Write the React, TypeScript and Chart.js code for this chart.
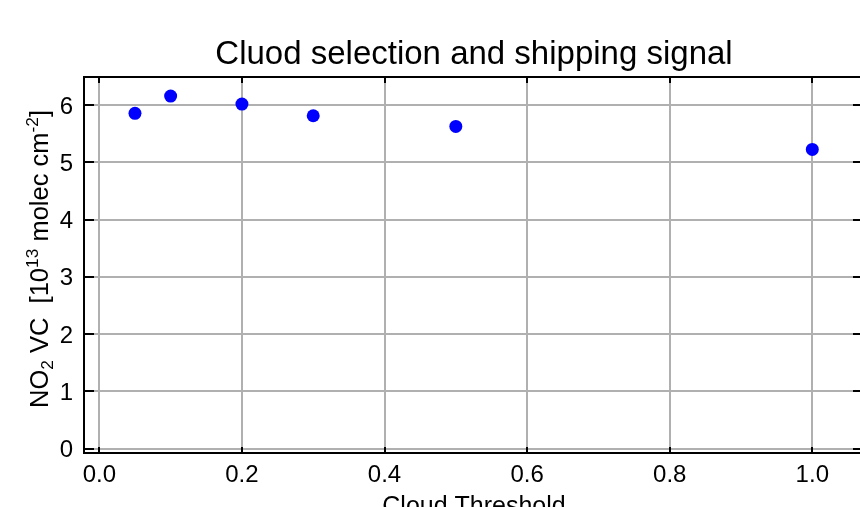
import React, { useEffect, useRef } from "react";
import { Chart, registerables } from "chart.js";

Chart.register(...registerables);

// ---- data ----
const thresholds = [0.05, 0.1, 0.2, 0.3, 0.5, 1.0];
const no2Values = [5.855, 6.157, 6.017, 5.813, 5.627, 5.225];
const xTickValues = [0, 0.2, 0.4, 0.6, 0.8, 1.0];
const yTickValues = [0, 1, 2, 3, 4, 5, 6];
const titleText = "Cluod selection and shipping signal";
const xLabelText = "Cloud Threshold";
// y label pieces: text, relative size, vertical shift (em, + = down)
const yLabelTexts = ["NO", "2", " VC  [10", "13", " molec cm", "-2", "]"];
const yLabelScales = [1, 0.68, 1, 0.68, 1, 0.68, 1];
const yLabelShifts = [0, 0.22, 0, -0.38, 0, -0.38, 0];

const FONT = '"Liberation Sans", Arial, Helvetica, sans-serif';
const W = 900;
const H = 540;
const AREA = { left: 84, top: 77, right: 862, bottom: 453 };

const framePlugin = {
  id: "framePlugin",
  afterDraw(chart: any) {
    const ctx = chart.ctx as CanvasRenderingContext2D;
    const ca = chart.chartArea;
    const xs = chart.scales.x;
    const ys = chart.scales.y;
    ctx.save();
    ctx.strokeStyle = "#000";
    ctx.lineWidth = 2;
    ctx.strokeRect(ca.left, ca.top, ca.right - ca.left, ca.bottom - ca.top);
    ctx.beginPath();
    for (const v of xTickValues) {
      const px = Math.round(xs.getPixelForValue(v));
      ctx.moveTo(px, ca.bottom);
      ctx.lineTo(px, ca.bottom - 6);
      ctx.moveTo(px, ca.top);
      ctx.lineTo(px, ca.top + 6);
    }
    for (const v of yTickValues) {
      const py = Math.round(ys.getPixelForValue(v));
      ctx.moveTo(ca.left, py);
      ctx.lineTo(ca.left + 10, py);
      ctx.moveTo(ca.right, py);
      ctx.lineTo(ca.right - 9, py);
    }
    ctx.stroke();

    const cx = (ca.left + ca.right) / 2;
    ctx.fillStyle = "#000";
    ctx.textAlign = "center";
    ctx.textBaseline = "alphabetic";
    ctx.font = `33px ${FONT}`;
    ctx.fillText(titleText, cx + 1, 64.3);
    ctx.font = `25px ${FONT}`;
    ctx.fillText(xLabelText, cx + 1, 513.5);

    // y label with sub/superscripts
    const size = 25.5;
    ctx.translate(47.5, 259);
    ctx.rotate(-Math.PI / 2);
    ctx.textAlign = "left";
    const widths: number[] = [];
    let total = 0;
    yLabelTexts.forEach((t, i) => {
      ctx.font = `${size * yLabelScales[i]}px ${FONT}`;
      const w = ctx.measureText(t).width;
      widths.push(w);
      total += w;
    });
    let x = -total / 2;
    yLabelTexts.forEach((t, i) => {
      ctx.font = `${size * yLabelScales[i]}px ${FONT}`;
      ctx.fillText(t, x, yLabelShifts[i] * size);
      x += widths[i];
    });
    ctx.restore();
  },
};

export default function App() {
  const ref = useRef<HTMLCanvasElement | null>(null);
  useEffect(() => {
    if (!ref.current) return;
    const chart = new Chart(ref.current, {
      type: "scatter",
      data: {
        datasets: [
          {
            data: thresholds.map((t, i) => ({ x: t, y: no2Values[i] })),
            backgroundColor: "#0000ff",
            borderWidth: 0,
            pointRadius: 6.5,
            pointHoverRadius: 6.5,
          },
        ],
      },
      options: {
        responsive: false,
        animation: false,
        devicePixelRatio: 1,
        layout: { padding: { left: 0, top: AREA.top, right: W - AREA.right, bottom: 0 } },
        plugins: { legend: { display: false }, tooltip: { enabled: false }, title: { display: false } },
        scales: {
          x: {
            type: "linear",
            min: -0.0215,
            max: 1.0697,
            afterBuildTicks: (s: any) => {
              s.ticks = xTickValues.map((v) => ({ value: v }));
            },
            afterFit: (s: any) => {
              s.height = H - AREA.bottom;
            },
            ticks: {
              callback: (v: any) => Number(v).toFixed(1),
              font: { family: FONT, size: 24 },
              color: "#000",
              padding: 8,
              maxRotation: 0,
              autoSkip: false,
            },
            grid: { color: "#b0b0b0", lineWidth: 2, drawTicks: false },
            border: { display: false },
          },
          y: {
            type: "linear",
            min: -0.077,
            max: 6.49,
            afterBuildTicks: (s: any) => {
              s.ticks = yTickValues.map((v) => ({ value: v }));
            },
            afterFit: (s: any) => {
              s.width = AREA.left;
            },
            ticks: {
              callback: (v: any) => String(v),
              font: { family: FONT, size: 24 },
              color: "#000",
              padding: 11,
              labelOffset: 2,
              autoSkip: false,
            },
            grid: { color: "#b0b0b0", lineWidth: 2, drawTicks: false },
            border: { display: false },
          },
        },
      },
      plugins: [framePlugin],
    });
    return () => chart.destroy();
  }, []);

  return (
    <div style={{ position: "absolute", left: 0, top: 0, width: 860, height: 507, overflow: "hidden", background: "#fff" }}>
      <canvas ref={ref} width={W} height={H} style={{ width: W, height: H, display: "block" }} />
    </div>
  );
}
